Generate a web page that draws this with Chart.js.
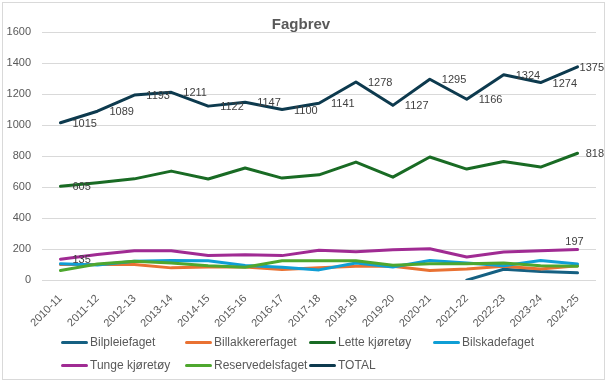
<!DOCTYPE html>
<html>
<head>
<meta charset="utf-8">
<script src="https://cdn.jsdelivr.net/npm/chart.js@4.4.1/dist/chart.umd.min.js"></script>
<style>
  html, body { margin: 0; padding: 0; background: #ffffff; }
  #frame { position: absolute; left: 2px; top: 2px; width: 603px; height: 378px; border: 1px solid #d9d9d9; box-sizing: border-box; }
  #wrap { position: absolute; left: 0; top: 0; width: 609px; height: 384px; }
  #legend { position: absolute; left: 0; top: 0; width: 609px; height: 384px; pointer-events: none;
            font-family: "Liberation Sans", Arial, sans-serif; font-size: 12px; color: #595959; }
  .li { position: absolute; display: flex; align-items: center; white-space: nowrap; }
  .sw { width: 27px; height: 3px; border-radius: 2px; margin-right: 2px; }
</style>
</head>
<body>
<div id="frame"></div>
<div id="wrap"><canvas id="c" width="609" height="384"></canvas></div>
<div id="legend"></div>
<script>
// ---- data ----
const years = ["2010-11","2011-12","2012-13","2013-14","2014-15","2015-16","2016-17","2017-18",
               "2018-19","2019-20","2020-21","2021-22","2022-23","2023-24","2024-25"];
const seriesNames = ["Bilpleiefaget","Billakkererfaget","Lette kjøretøy","Bilskadefaget",
                     "Tunge kjøretøy","Reservedelsfaget","TOTAL"];
const bilpleie     = [null,null,null,null,null,null,null,null,null,null,null,0,70,55,47];
const billakkerer  = [100,100,100,79,85,85,68,80,89,89,62,72,89,72,93];
const letteKjoretoy= [605,628,653,703,652,723,658,679,761,664,794,716,765,729,818];
const bilskade     = [106,98,121,127,125,94,83,66,110,85,127,110,93,127,104];
const tungeKjoretoy= [135,165,189,189,159,164,158,192,183,196,202,149,181,190,197];
const reservedels  = [62,104,121,110,92,83,125,125,125,96,106,106,110,93,89];
const total        = [1015,1089,1193,1211,1122,1147,1100,1141,1278,1127,1295,1166,1324,1274,1375];
const yTicks       = [0,200,400,600,800,1000,1200,1400,1600];

// ---- styles ----
const colors = ["#156082","#E97132","#196B24","#0F9ED5","#A02B93","#4EA72E","#0D3A4E"];
const seriesData = [bilpleie,billakkerer,letteKjoretoy,bilskade,tungeKjoretoy,reservedels,total];
// which points get a value label, and where
const labelSpec = {
  2: {0: "right", 14: "right"},
  4: {0: "right", 14: "above"},
  6: "all-right"
};

const datasets = seriesData.map((d, i) => ({
  label: seriesNames[i],
  data: d,
  borderColor: colors[i],
  backgroundColor: colors[i],
  borderWidth: 3,
  pointRadius: 0,
  pointHoverRadius: 0,
  tension: 0,
  fill: false,
  spanGaps: false,
  borderCapStyle: "round",
  borderJoinStyle: "round",
  order: seriesData.length - i
}));

const valueLabels = {
  id: "valueLabels",
  afterDatasetsDraw(chart) {
    const ctx = chart.ctx;
    ctx.save();
    ctx.font = "11px 'Liberation Sans', Arial, sans-serif";
    ctx.fillStyle = "#404040";
    Object.keys(labelSpec).forEach(k => {
      const di = +k;
      const meta = chart.getDatasetMeta(di);
      const spec = labelSpec[k];
      meta.data.forEach((pt, idx) => {
        let pos = spec === "all-right" ? "right" : spec[idx];
        if (!pos) return;
        const v = chart.data.datasets[di].data[idx];
        if (v === null) return;
        const txt = String(v);
        const w = ctx.measureText(txt).width;
        if (pos === "right") {
          let x = pt.x + 12;
          if (x + w > 604) x = 604 - w;
          ctx.textAlign = "left"; ctx.textBaseline = "middle";
          ctx.fillText(txt, x, pt.y + 1);
        } else {
          ctx.textAlign = "center"; ctx.textBaseline = "bottom";
          ctx.fillText(txt, pt.x - 3, pt.y - 2);
        }
      });
    });
    ctx.restore();
  }
};

new Chart(document.getElementById("c"), {
  type: "line",
  data: { labels: years, datasets },
  options: {
    responsive: false,
    animation: false,
    devicePixelRatio: 1,
    layout: { autoPadding: false, padding: { left: 6, right: 13, top: 0, bottom: 42 } },
    plugins: {
      legend: { display: false },
      tooltip: { enabled: false },
      title: {
        display: true, text: "Fagbrev", color: "#595959",
        font: { family: "'Liberation Sans', Arial, sans-serif", size: 15, weight: "bold" },
        padding: { top: 16, bottom: -2 }
      }
    },
    scales: {
      x: {
        offset: true,
        afterFit(scale) { scale.paddingLeft = 0; scale.paddingRight = 0; },
        grid: { display: false, drawTicks: false },
        border: { display: false },
        ticks: { color: "#595959", minRotation: 45, maxRotation: 45, padding: 12, autoSkip: false,
                 font: { family: "'Liberation Sans', Arial, sans-serif", size: 11 } }
      },
      y: {
        min: 0, max: 1600,
        afterBuildTicks(axis) { axis.ticks = yTicks.map(v => ({ value: v })); },
        afterFit(scale) { scale.width = 36; },
        grid: { color: "#d9d9d9", lineWidth: 1, drawTicks: false },
        border: { display: false },
        ticks: { color: "#595959", padding: 11, callback: (v) => String(v),
                 font: { family: "'Liberation Sans', Arial, sans-serif", size: 11 } }
      }
    }
  },
  plugins: [valueLabels]
});

// ---- legend (HTML) ----
const legend = document.getElementById("legend");
const legendCols = 4, colStart = 61, colStep = 124, rowTop = [342, 365];
seriesNames.forEach((name, i) => {
  const item = document.createElement("div");
  item.className = "li";
  item.style.left = (colStart + (i % legendCols) * colStep) + "px";
  item.style.top = (rowTop[Math.floor(i / legendCols)] - 7) + "px";
  item.style.height = "14px";
  const sw = document.createElement("div");
  sw.className = "sw"; sw.style.background = colors[i];
  const t = document.createElement("span"); t.textContent = name;
  item.appendChild(sw); item.appendChild(t);
  legend.appendChild(item);
});
</script>
</body>
</html>
